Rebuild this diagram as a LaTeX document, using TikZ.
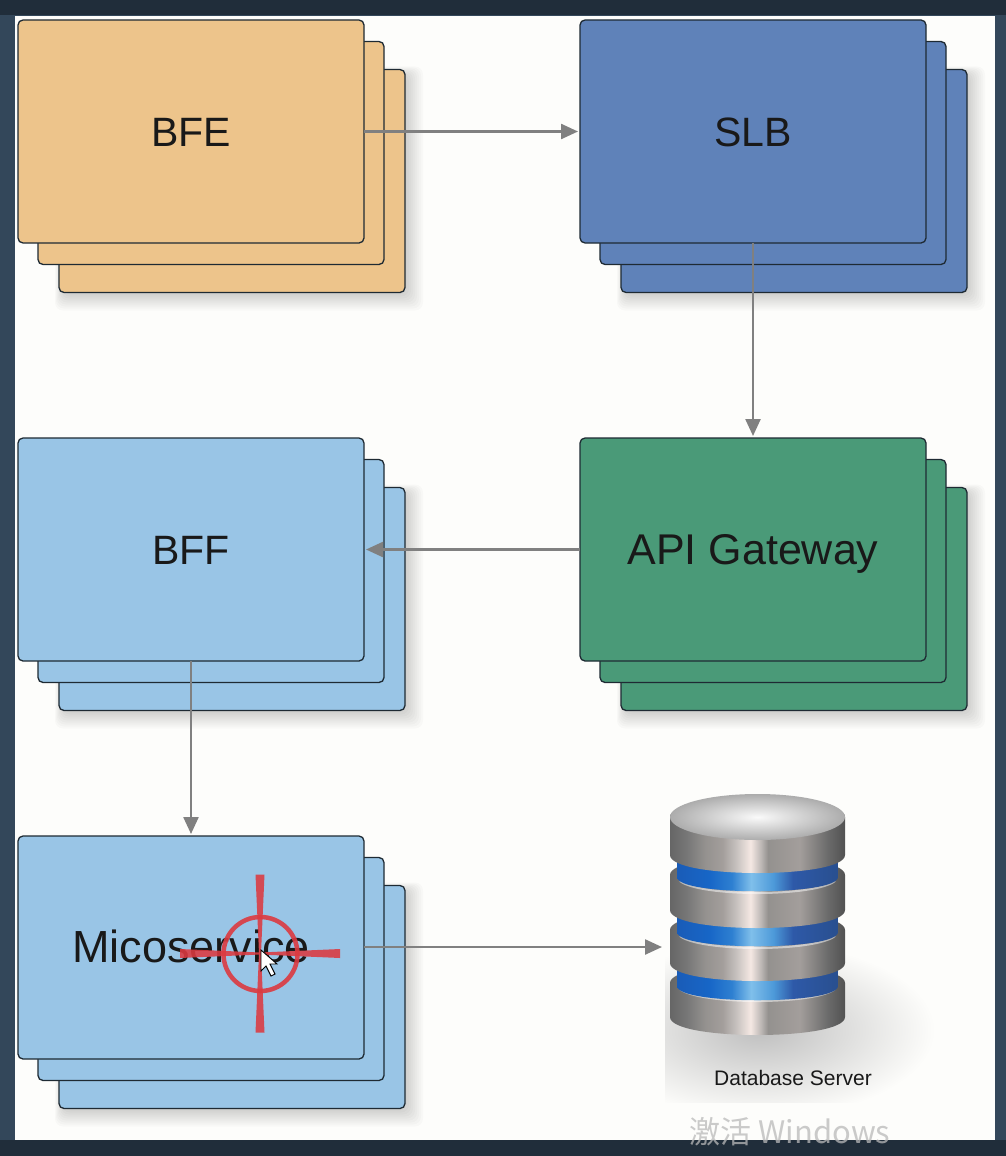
\documentclass[tikz,border=0pt]{standalone}
\usepackage{fontspec}
\setmainfont{Liberation Sans}
\newfontfamily\cjkfont{Noto Sans CJK SC}
\usetikzlibrary{arrows.meta}
\definecolor{frameblue}{HTML}{33475A}
\definecolor{frametop}{HTML}{202D3A}
\definecolor{pagewhite}{HTML}{FDFDFB}
\definecolor{cardorange}{HTML}{EDC48B}
\definecolor{cardblue}{HTML}{5F82B9}
\definecolor{cardsky}{HTML}{99C5E6}
\definecolor{cardgreen}{HTML}{4A9A78}
\definecolor{cardline}{HTML}{1E2A33}
\definecolor{arrowgray}{HTML}{808080}
\definecolor{targetred}{HTML}{DC3A40}
\pgfdeclarehorizontalshading{dbmetal}{100bp}{rgb(0bp)=(0.40,0.40,0.40); rgb(25bp)=(0.40,0.40,0.40); rgb(30bp)=(0.47,0.47,0.47); rgb(35bp)=(0.58,0.57,0.56); rgb(40bp)=(0.64,0.62,0.61); rgb(44bp)=(0.78,0.76,0.75); rgb(48bp)=(0.96,0.91,0.89); rgb(51bp)=(0.74,0.72,0.71); rgb(53bp)=(0.58,0.57,0.56); rgb(62bp)=(0.64,0.62,0.61); rgb(70bp)=(0.42,0.42,0.42); rgb(75bp)=(0.32,0.32,0.32); rgb(100bp)=(0.32,0.32,0.32)}
\pgfdeclarehorizontalshading{dbblue}{100bp}{rgb(0bp)=(0.10,0.36,0.72); rgb(25bp)=(0.10,0.36,0.72); rgb(35bp)=(0.09,0.40,0.78); rgb(42bp)=(0.18,0.50,0.82); rgb(48bp)=(0.50,0.75,0.92); rgb(55bp)=(0.30,0.60,0.85); rgb(61bp)=(0.18,0.35,0.66); rgb(75bp)=(0.16,0.31,0.56); rgb(100bp)=(0.16,0.31,0.56)}
\newcommand{\dbdisk}[2]{%
\shade[shading=dbmetal] (670,#1) .. controls (670,#1-24) and (845,#1-24) .. (845,#1) -- (845,#2) .. controls (845,#2+24) and (670,#2+24) .. (670,#2) -- cycle;
\draw[line width=2pt, white, opacity=.5] (680,#1+6) .. controls (700,#1+22) and (815,#1+22) .. (835,#1+6);}
\newcommand{\dbband}[2]{%
\shade[shading=dbblue] (677,#1) -- (677,#2) .. controls (677,#2+19) and (838,#2+19) .. (838,#2) -- (838,#1) -- cycle;}

\begin{document}
\begin{tikzpicture}[x=1pt, y=-1pt,
  card/.style={draw=cardline, line width=1.3pt, rounded corners=5pt, minimum width=346pt, minimum height=223pt, inner sep=0pt, outer sep=0pt, text=black!90, text height=30pt, text depth=0pt},
  flow/.style={draw=arrowgray, line width=2.4pt, -{Triangle[length=17pt, width=15pt]}, shorten >=2pt}]
\useasboundingbox (0,0) rectangle (1006,1156);
\fill[frameblue] (0,0) rectangle (1006,1156);
\fill[frametop] (0,0) rectangle (1006,15);
\fill[frametop] (0,1140) rectangle (1006,1156);
\fill[pagewhite] (15,16) rectangle (995,1140);
% card stacks
\foreach \nm/\cx/\cy/\col/\fs/\txt in {BFE/191/131.5/cardorange/41/BFE, SLB/753/131.5/cardblue/41/SLB, API/753/549.5/cardgreen/43/API Gateway, BFF/191/549.5/cardsky/41/BFF, MS/191/947.5/cardsky/45/Micoservice}{
  \foreach \s in {2,4,...,18}
    \fill[black, opacity=.018, rounded corners=8pt] (\cx+41-173-\s/2+5,\cy+49.5-111.5-\s/2+6) rectangle (\cx+41+173+\s,\cy+49.5+111.5+\s);
  \node[card, fill=\col] (\nm N2) at (\cx+41,\cy+49.5) {};
  \node[card, fill=\col] (\nm N1) at (\cx+20,\cy+21.5) {};
  \node[card, fill=\col, font=\fontsize{\fs}{50}\selectfont] (\nm N0) at (\cx,\cy) {\txt};
}
% database
\begin{scope}
\clip (665,800) rectangle (935,1102);
\shade[inner color=gray!50, outer color=pagewhite] (760,1030) ellipse [x radius=175pt, y radius=88pt];
\end{scope}
\dbdisk{983}{1017}
\dbband{955}{986}
\dbdisk{930}{963}
\dbband{900}{932}
\dbdisk{875}{910}
\dbband{845}{877}
\dbdisk{817}{855}
\shade[inner color=white!96!gray, outer color=gray!65] (757.5,817) ellipse [x radius=87.5pt, y radius=23pt];
\coordinate (DBin) at (664,947);
\node[font=\fontsize{21}{25}\selectfont, text=black!90] (DBlabel) at (793,1078) {Database Server};
% connectors
\draw[flow] (BFEN0) -- (SLBN0);
\draw[flow] (SLBN0) -- (APIN0);
\draw[flow] (APIN0) -- (BFFN0);
\draw[flow] (BFFN0) -- (MSN0);
\draw[flow] (MSN0.east |- DBin) -- (DBin);
% target mark
\foreach \ang/\len in {0/80, 90/79, 180/80, 270/79}
  \fill[targetred, opacity=.88, rotate around={\ang:(260,953.5)}] (260,952.5) -- (260+\len,949) -- (260+\len,958) -- (260,954.5) -- cycle;
\draw[targetred, line width=4.5pt, opacity=.9] (260.5,954) circle [radius=37pt];
\draw[fill=white, draw=black, line width=.9pt] (261,950) -- (261,971) -- (266,966) -- (271,976) -- (275,974) -- (270,964) -- (277,964) -- cycle;
\node[font=\fontsize{31}{36}\selectfont, text=gray!55, opacity=.75] (watermark) at (790,1132) {\cjkfont 激活 Windows};
\end{tikzpicture}
\end{document}
